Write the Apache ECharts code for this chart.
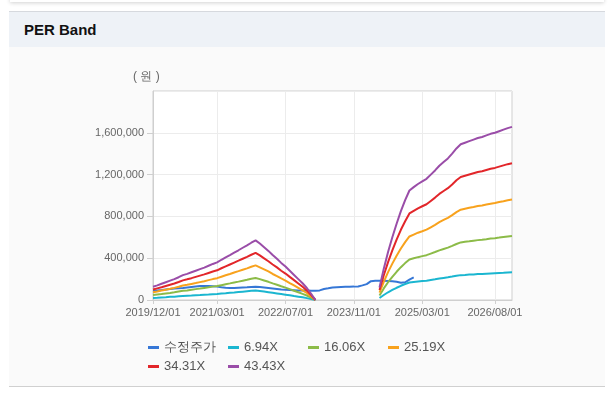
<!DOCTYPE html>
<html>
<head>
<meta charset="utf-8">
<script src="https://cdn.jsdelivr.net/npm/echarts@6/dist/echarts.min.js"></script>
<style>
  html, body { margin:0; padding:0; background:#fff; width:614px; height:398px; overflow:hidden; }
  #topcard { position:absolute; left:10px; top:-20px; width:594px; height:22px; background:#fff; box-shadow:0 1px 4px rgba(0,0,0,0.18); }
  #panel { position:absolute; left:9px; top:11px; width:596px; height:374px; background:#fafafa; border-top:1px solid #d6d9de; border-bottom:1px solid #d0d0d0; }
  #header { position:absolute; left:0; top:0; width:596px; height:35px; background:#eef2f7; }
  #header span { position:absolute; left:15px; top:9px; font:bold 15px "Liberation Sans", Arial, sans-serif; color:#111; }
  #chart { position:absolute; left:0; top:0; width:614px; height:398px; }
</style>
</head>
<body>
<div id="topcard"></div>
<div id="panel"><div id="header"><span>PER Band</span></div></div>
<div id="chart"></div>
<script>
// x tick labels shown on the axis
const tickLabels = ['2019/12/01', '2021/03/01', '2022/07/01', '2023/11/01', '2025/03/01', '2026/08/01'];
// monthly categories 2019/12 .. 2026/12
const categories = [];
for (let y = 2019, m = 12; y < 2027; ) {
  categories.push(y + '/' + String(m).padStart(2, '0') + '/01');
  if (y === 2026 && m === 12) break;
  m++; if (m > 12) { m = 1; y++; }
}
const seriesNames = ['수정주가', '6.94X', '16.06X', '25.19X', '34.31X', '43.43X'];

// adjusted price (months 0..61)
const price = [90000,92000,95000,100000,105000,110000,112000,115000,120000,125000,130000,133000,135000,135000,132000,128000,122000,118000,115000,115000,118000,120000,122000,125000,127000,125000,120000,115000,110000,105000,100000,97000,95000,93000,90000,90000,90000,88000,88000,92000,105000,112000,120000,122000,124000,126000,127000,128000,130000,140000,152000,180000,184000,185000,184000,182000,180000,175000,165000,170000,195000,216000];

// band segment 1: months 0..38, segment 2: months 53..84
const band694A = [20000,22000,25000,27000,30000,32000,35000,38000,40000,42000,45000,47000,50000,52000,55000,58000,62000,65000,69000,72000,76000,80000,84000,88000,91000,86000,81000,75000,69000,63000,57000,51000,45000,38000,32000,26000,18000,10000,0];
const band694B = [19000,48000,74000,96000,117000,136000,153000,167000,173000,177000,181000,185000,192000,198000,205000,211000,217000,224000,232000,238000,240000,243000,245000,248000,249000,252000,254000,256000,258000,260000,263000,265000];
const band1606A = [47000,52000,57000,63000,68000,74000,81000,88000,92000,98000,104000,109000,115000,121000,128000,133000,142000,151000,159000,168000,176000,185000,193000,203000,211000,200000,187000,174000,159000,146000,131000,118000,104000,89000,74000,59000,43000,22000,0];
const band1606B = [44000,111000,170000,222000,270000,314000,353000,388000,399000,410000,420000,429000,444000,459000,475000,488000,501000,518000,536000,551000,557000,562000,568000,573000,577000,582000,588000,592000,597000,603000,608000,613000];
const band2519A = [74000,81000,90000,99000,107000,116000,126000,138000,145000,154000,162000,171000,180000,190000,200000,209000,223000,237000,249000,263000,276000,290000,303000,318000,331000,313000,293000,273000,249000,229000,206000,186000,162000,139000,116000,93000,67000,35000,0];
const band2519B = [70000,174000,267000,348000,423000,493000,554000,608000,626000,644000,658000,673000,696000,719000,745000,766000,786000,812000,841000,864000,873000,882000,890000,899000,905000,914000,922000,928000,937000,945000,954000,961000];
const band3431A = [100000,111000,122000,134000,146000,158000,172000,188000,198000,209000,221000,233000,245000,259000,273000,284000,304000,322000,340000,358000,376000,395000,413000,433000,451000,427000,399000,371000,340000,312000,280000,253000,221000,190000,158000,126000,91000,47000,0];
const band3431B = [95000,237000,363000,474000,577000,672000,754000,828000,853000,877000,897000,916000,948000,980000,1015000,1043000,1070000,1106000,1146000,1177000,1189000,1201000,1213000,1225000,1232000,1244000,1256000,1264000,1276000,1288000,1300000,1309000];
const band4343A = [127000,140000,155000,170000,185000,200000,218000,238000,250000,265000,280000,295000,310000,328000,345000,360000,385000,408000,430000,453000,476000,500000,523000,548000,571000,540000,505000,470000,430000,395000,355000,320000,280000,240000,200000,160000,115000,60000,0];
const band4343B = [120000,300000,460000,600000,730000,850000,955000,1048000,1080000,1110000,1135000,1160000,1200000,1240000,1285000,1320000,1355000,1400000,1450000,1490000,1505000,1520000,1535000,1550000,1560000,1575000,1590000,1600000,1615000,1630000,1645000,1657000];

const seg2Start = 53;
function place(a, b) {
  const out = a.slice();
  while (out.length < seg2Start) out.push(null);
  return out.concat(b);
}
function pad(a) {
  const out = a.slice();
  while (out.length < categories.length) out.push(null);
  return out;
}

const colors = ['#3677d6', '#1bb6d0', '#8cbb48', '#f8a21d', '#e2262a', '#9a4da8'];
const seriesData = [
  pad(price),
  place(band694A, band694B),
  place(band1606A, band1606B),
  place(band2519A, band2519B),
  place(band3431A, band3431B),
  place(band4343A, band4343B)
];

const isTick = (i) => tickLabels.indexOf(categories[i]) >= 0;
const font = '"Liberation Sans", Arial, sans-serif';

const chart = echarts.init(document.getElementById('chart'), null, { renderer: 'canvas' });
chart.setOption({
  animation: false,
  backgroundColor: 'transparent',
  color: colors,
  grid: { left: 153, top: 91, width: 359, height: 209, show: true, backgroundColor: '#fff', borderColor: '#cfcfcf', borderWidth: 1 },
  graphic: [{ type: 'text', left: 133, top: 71, style: { text: '( 원 )', font: '12px ' + font, fill: '#666' } }],
  xAxis: {
    type: 'category', data: categories, boundaryGap: false,
    axisLine: { show: true, lineStyle: { color: '#cfcfcf' } },
    axisTick: { show: true, length: 4, interval: (i) => isTick(i), lineStyle: { color: '#cfcfcf' } },
    axisLabel: { interval: (i) => isTick(i), color: '#666', fontSize: 11, fontFamily: font, margin: 7 },
    splitLine: { show: true, interval: (i) => isTick(i), lineStyle: { color: '#ececec' } }
  },
  yAxis: {
    type: 'value', min: 0, max: 2000000, interval: 400000,
    axisLine: { show: true, lineStyle: { color: '#cfcfcf' } },
    axisTick: { show: true, length: 6, lineStyle: { color: '#cfcfcf' } },
    axisLabel: { showMaxLabel: false, color: '#666', fontSize: 11, fontFamily: font, margin: 9,
      formatter: (v) => v.toLocaleString('en-US') },
    splitLine: { show: true, lineStyle: { color: '#ececec' } }
  },
  legend: {
    left: 143, top: 335, width: 330, itemGap: 4, itemWidth: 11, itemHeight: 3, icon: 'rect',
    data: seriesNames,
    textStyle: { color: '#555', fontSize: 13, fontFamily: font, width: 60, lineHeight: 15 }
  },
  series: seriesNames.map((n, k) => ({
    name: n, type: 'line', data: seriesData[k], symbol: 'none', connectNulls: false,
    lineStyle: { width: 2 }, z: 2
  }))
});
</script>
</body>
</html>
